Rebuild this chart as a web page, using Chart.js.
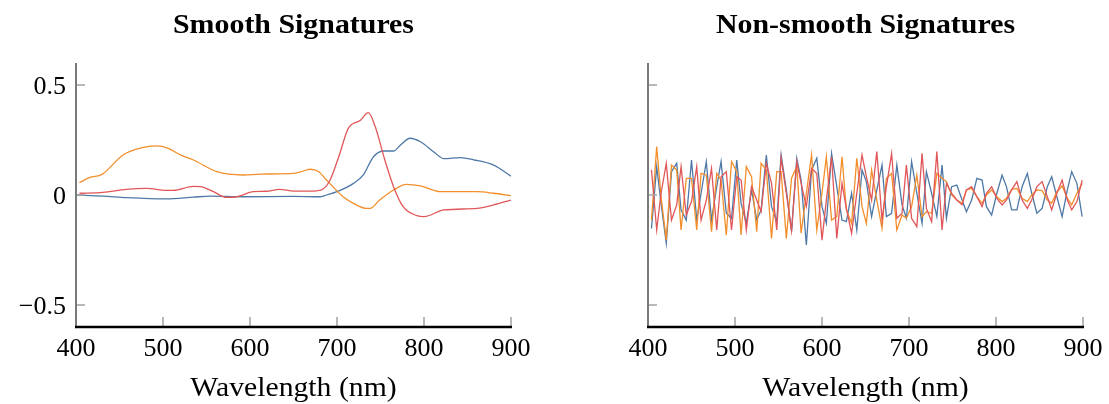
<!DOCTYPE html>
<html><head><meta charset="utf-8">
<script src="https://cdn.jsdelivr.net/npm/chart.js@4.4.1/dist/chart.umd.min.js"></script>
<style>
html,body{margin:0;padding:0;background:#fff;width:1109px;height:404px;overflow:hidden}
canvas{position:absolute;top:0}
#c1{left:0}#c2{left:555px}
</style></head><body>
<canvas id="c1" width="555" height="404"></canvas>
<canvas id="c2" width="554" height="404"></canvas>
<script>
// ---------- tick labels / titles ----------
const xTicks = [400, 500, 600, 700, 800, 900];
const yTicks = [-0.5, 0, 0.5];
const yTickLabels = ['\u22120.5', '0', '0.5'];
const titleLeft = 'Smooth Signatures';
const titleRight = 'Non-smooth Signatures';
const xAxisTitle = 'Wavelength (nm)';

// ---------- smooth signatures ----------
const blueSmoothWl  = [400,431,458,504,535,554,592,650,681,688,700,719,730,742,754,765,773,784,796,811,823,842,857,880,900];
const blueSmoothVal = [0,-0.005,-0.012,-0.018,-0.01,-0.005,-0.008,-0.006,-0.008,0,0.015,0.053,0.09,0.174,0.2,0.2,0.227,0.258,0.242,0.197,0.165,0.17,0.16,0.136,0.086];
const orangeSmoothWl  = [404,416,430,454,476,493,506,520,535,562,592,612,650,658,669,679,688,707,719,734,738,749,765,780,796,819,861,880,900];
const orangeSmoothVal = [0.056,0.08,0.094,0.182,0.215,0.223,0.212,0.182,0.159,0.106,0.091,0.095,0.098,0.105,0.117,0.106,0.068,-0.008,-0.038,-0.061,-0.061,-0.023,0.023,0.048,0.041,0.015,0.015,0.008,-0.003];
const redSmoothWl  = [404,431,458,481,504,512,535,543,558,573,585,604,619,634,650,673,684,692,702,713,727,736,744,755,765,776,792,800,823,861,880,900];
const redSmoothVal = [0.008,0.012,0.026,0.03,0.021,0.021,0.039,0.038,0.015,-0.011,-0.008,0.015,0.017,0.026,0.018,0.018,0.027,0.068,0.174,0.303,0.34,0.374,0.31,0.159,0.038,-0.053,-0.094,-0.098,-0.068,-0.061,-0.045,-0.023];

// ---------- non-smooth signatures ----------
const roughWl = [404,410,415,421,427,433,438,444,450,456,461,467,473,479,484,490,496,502,507,513,519,525,530,536,542,548,553,559,565,571,576,582,588,594,600,605,611,617,623,628,634,640,646,651,657,663,669,674,680,686,692,697,703,709,715,720,726,732,738,743,749,755,761,766,772,778,784,789,795,801,807,812,818,824,830,836,841,847,853,859,864,870,876,882,887,893,899];
const blueRough = [-0.152,0.129,-0.038,-0.220,0.106,0.144,-0.068,-0.114,0.159,-0.114,0.008,0.152,-0.114,0.038,0.152,-0.083,-0.106,0.159,-0.038,-0.129,0.023,-0.114,-0.068,0.182,-0.053,-0.121,0.182,0.023,-0.167,0.167,0.068,-0.227,0.114,0.167,-0.053,-0.129,0.189,0.038,-0.114,-0.121,0.008,-0.159,0.114,0.061,-0.098,0.023,0.136,-0.098,-0.083,0.136,-0.045,-0.106,0.152,0.008,-0.129,0.106,0.008,-0.098,0.136,-0.106,0.038,0.045,-0.023,-0.076,-0.023,0.076,0.068,-0.053,-0.091,0.008,0.091,0.038,-0.068,-0.068,0.038,0.098,0.008,-0.083,-0.061,0.038,0.083,-0.008,-0.098,0.023,0.106,0.053,-0.098];
const orangeRough = [-0.114,0.220,-0.008,-0.205,0.136,0.114,-0.159,0.076,0.076,-0.159,0.098,0.091,-0.167,0.098,0.068,-0.182,0.152,0.106,-0.182,0.129,0.083,-0.167,0.144,0.114,-0.197,0.106,0.106,-0.197,0.076,0.129,-0.174,0.008,0.182,-0.159,0.008,0.174,-0.114,-0.098,0.174,-0.068,-0.129,0.167,-0.053,-0.129,0.114,-0.023,-0.152,0.076,0.098,-0.159,-0.091,-0.106,-0.053,0.091,-0.098,-0.076,-0.083,0.098,0.076,0.061,0,-0.023,-0.038,0.023,0.030,-0.008,-0.038,0,0.023,-0.008,-0.030,-0.015,0.026,0.030,-0.015,-0.030,0,0.023,0.020,-0.023,-0.038,0.015,0.041,-0.015,-0.045,0.008,0.053];
const redRough = [0.114,-0.159,0.008,0.144,-0.114,-0.045,0.129,-0.091,-0.030,0.129,-0.114,-0.023,0.121,-0.159,0.083,0.106,-0.159,0.083,0.068,-0.159,0.038,-0.023,-0.076,0.144,0.053,-0.159,0.167,0.008,-0.162,0.152,0.053,-0.053,0.121,0.098,-0.205,-0.023,0.174,-0.197,0.053,-0.061,-0.174,0.008,0.182,0.083,-0.023,0.197,-0.114,0.038,0.189,-0.106,-0.083,0.136,-0.106,-0.144,0.189,-0.061,-0.121,0.197,-0.159,0.053,0.008,-0.023,-0.045,0.023,0.038,-0.008,-0.053,0.008,0.038,-0.015,-0.045,-0.023,0.023,0.061,-0.023,-0.061,-0.023,0.038,0.061,-0.008,-0.068,0.008,0.068,-0.023,-0.068,-0.030,0.068];

const BLUE = '#4e79a7', ORANGE = '#f28e2b', RED = '#e15759';
const SERIF = '"Liberation Serif","Times New Roman",serif';

function pts(xs, ys){ return xs.map((x,i)=>({x:x, y:ys[i]})); }

function txt(ctx, s, x, y, font, align, sx){
  ctx.save();
  ctx.font = font; ctx.fillStyle = '#000';
  ctx.textBaseline = 'alphabetic'; ctx.textAlign = align;
  ctx.translate(x, y); ctx.scale(sx, 1);
  ctx.fillText(s, 0, 0);
  ctx.restore();
}

const axesPlugin = {
  id: 'axesDecor',
  afterDraw(chart, args, opts){
    const ctx = chart.ctx, a = chart.chartArea, xs = chart.scales.x, ys = chart.scales.y;
    ctx.save();
    // tick marks (inward)
    ctx.strokeStyle = '#a8a8a8'; ctx.lineWidth = 1.6;
    yTicks.forEach(v=>{
      const py = ys.getPixelForValue(v);
      ctx.beginPath(); ctx.moveTo(a.left, py); ctx.lineTo(a.left + 9, py); ctx.stroke();
    });
    xTicks.forEach((v,i)=>{
      if (i === 0) return;
      const px = xs.getPixelForValue(v);
      ctx.beginPath(); ctx.moveTo(px, a.bottom); ctx.lineTo(px, a.bottom - 10); ctx.stroke();
    });
    // y axis line
    ctx.strokeStyle = '#7a7a7a'; ctx.lineWidth = 2;
    ctx.beginPath(); ctx.moveTo(a.left, a.top); ctx.lineTo(a.left, a.bottom); ctx.stroke();
    // x axis line
    ctx.strokeStyle = '#000'; ctx.lineWidth = 2.6;
    ctx.beginPath(); ctx.moveTo(a.left - 1, a.bottom); ctx.lineTo(a.right + 1, a.bottom); ctx.stroke();
    ctx.restore();

    // x tick labels
    xTicks.forEach(v=>{
      txt(ctx, String(v), xs.getPixelForValue(v), a.bottom + 29, '26px ' + SERIF, 'center', 1.0);
    });
    if (opts.yLabels){
      yTicks.forEach((v,i)=>{
        txt(ctx, yTickLabels[i], a.left - 10, ys.getPixelForValue(v) + 9, '26px ' + SERIF, 'right', 1.0);
      });
    }
    const cx = (a.left + a.right) / 2;
    txt(ctx, xAxisTitle, cx, a.bottom + 69, '27px ' + SERIF, 'center', 1.1);
    txt(ctx, opts.title, cx, 33, 'bold 28px ' + SERIF, 'center', 1.067);
  }
};

function makeChart(id, datasets, pad, title, yLabels, smooth){
  return new Chart(document.getElementById(id), {
    type: 'line',
    data: { datasets: datasets },
    options: {
      responsive: false, animation: false, events: [],
      layout: { padding: pad },
      elements: {
        point: { radius: 0 },
        line: { borderWidth: 1.3, tension: smooth ? 0.4 : 0, cubicInterpolationMode: smooth ? 'monotone' : 'default' }
      },
      scales: {
        x: { type: 'linear', min: 400, max: 900, display: false },
        y: { type: 'linear', min: -0.6, max: 0.6, display: false }
      },
      plugins: { legend: { display: false }, tooltip: { enabled: false }, axesDecor: { title: title, yLabels: yLabels } }
    },
    plugins: [axesPlugin]
  });
}

makeChart('c1', [
  { data: pts(redSmoothWl, redSmoothVal), borderColor: RED, order: 1, fill: false },
  { data: pts(orangeSmoothWl, orangeSmoothVal), borderColor: ORANGE, order: 2, fill: false },
  { data: pts(blueSmoothWl, blueSmoothVal), borderColor: BLUE, order: 3, fill: false }
], { left: 76, right: 44, top: 63, bottom: 77 }, titleLeft, true, true);

makeChart('c2', [
  { data: pts(roughWl, redRough), borderColor: RED, order: 1, fill: false },
  { data: pts(roughWl, orangeRough), borderColor: ORANGE, order: 2, fill: false },
  { data: pts(roughWl, blueRough), borderColor: BLUE, order: 3, fill: false }
], { left: 93, right: 26, top: 63, bottom: 77 }, titleRight, false, false);
</script>
</body></html>
